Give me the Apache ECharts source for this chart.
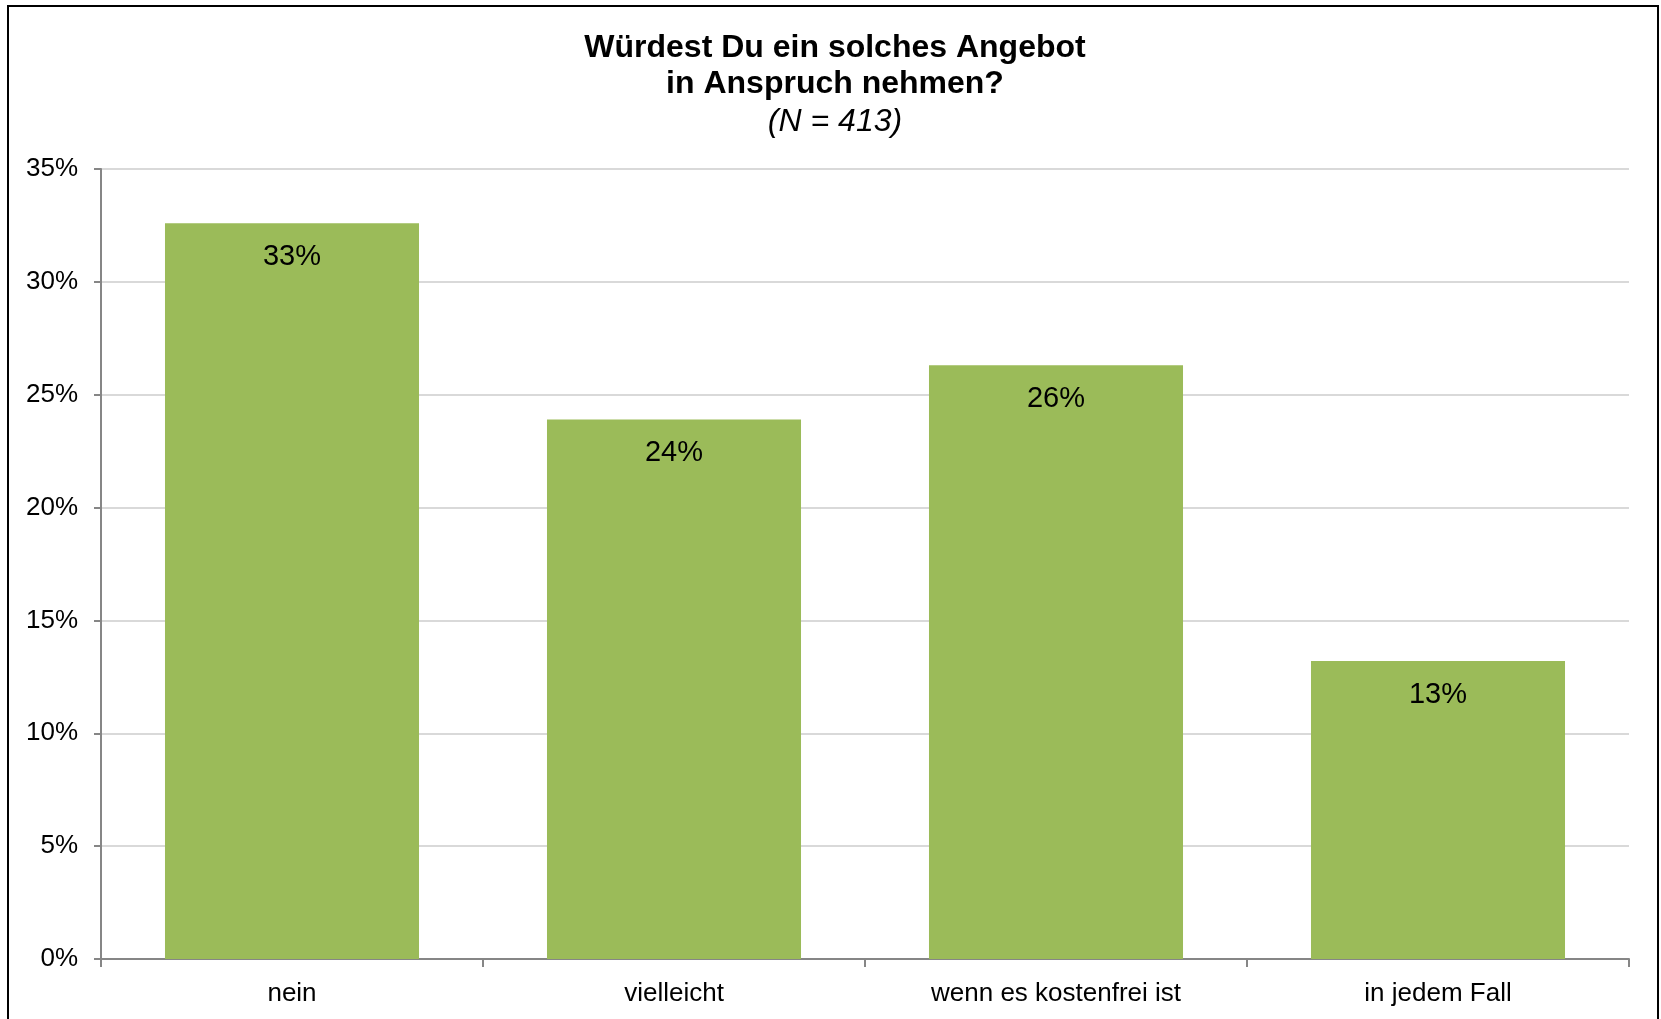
<!DOCTYPE html>
<html lang="de">
    <head>
        <meta charset="UTF-8">
        <title>Würdest Du ein solches Angebot in Anspruch nehmen?</title>
        <script src="https://cdn.jsdelivr.net/npm/echarts@6/dist/echarts.min.js"></script>
        <style>
            html, body {
                margin: 0;
                height: 100%;
                background: #fff;
            }
        </style>
    </head>
    <body>
        <!-- chart container -->
        <div id="main" style="width: 1661px;height: 1019px;"></div>
    </body>
</html>
<script>
    // answer categories
    var categories = ['nein', 'vielleicht', 'wenn es kostenfrei ist', 'in jedem Fall'];
    // share of answers in percent
    var shares = [32.6, 23.9, 26.3, 13.2];
    // labels shown on the bars
    var shareLabels = ['33%', '24%', '26%', '13%'];

    var font = '"Liberation Sans", Arial, sans-serif';

    var myChart = echarts.init(document.getElementById('main'));

    var option = {
        backgroundColor: '#fff',
        animation: false,
        title: [
            {
                text: 'Würdest Du ein solches Angebot\nin Anspruch nehmen?',
                left: 830,
                top: 25,
                textAlign: 'center',
                textStyle: {
                    fontFamily: font,
                    fontSize: 32,
                    fontWeight: 'bold',
                    color: '#000',
                    lineHeight: 36
                }
            },
            {
                text: '(N = 413)',
                left: 830,
                top: 99,
                textAlign: 'center',
                textStyle: {
                    fontFamily: font,
                    fontSize: 32,
                    fontStyle: 'italic',
                    fontWeight: 'normal',
                    color: '#000',
                    lineHeight: 36
                }
            }
        ],
        grid: {
            left: 101,
            right: 32,
            top: 169,
            bottom: 60
        },
        xAxis: {
            type: 'category',
            data: categories,
            axisLine: {lineStyle: {color: '#868686', width: 2}},
            axisTick: {show: true, length: 8, alignWithLabel: false, lineStyle: {color: '#868686', width: 2}},
            axisLabel: {
                fontFamily: font,
                fontSize: 26,
                color: '#000',
                margin: 22
            }
        },
        yAxis: {
            type: 'value',
            min: 0,
            max: 35,
            interval: 5,
            axisLine: {show: true, lineStyle: {color: '#868686', width: 2}},
            axisTick: {show: true, length: 7, lineStyle: {color: '#868686', width: 2}},
            splitLine: {lineStyle: {color: '#D9D9D9', width: 2}},
            axisLabel: {
                fontFamily: font,
                fontSize: 26,
                color: '#000',
                margin: 23,
                formatter: '{value}%'
            }
        },
        series: [
            {
                type: 'bar',
                data: shares,
                barCategoryGap: '33.5%',
                itemStyle: {color: '#9BBB59'},
                label: {
                    show: true,
                    position: 'insideTop',
                    distance: 19,
                    fontFamily: font,
                    fontSize: 29,
                    color: '#000',
                    formatter: function (p) {
                        return shareLabels[p.dataIndex];
                    }
                }
            }
        ],
        // outer chart border, open at the bottom like the picture
        graphic: [
            {
                type: 'rect',
                silent: true,
                shape: {x: 8, y: 6, width: 1650, height: 1100},
                style: {fill: 'none', stroke: '#000', lineWidth: 2}
            }
        ]
    };

    myChart.setOption(option);
</script>
